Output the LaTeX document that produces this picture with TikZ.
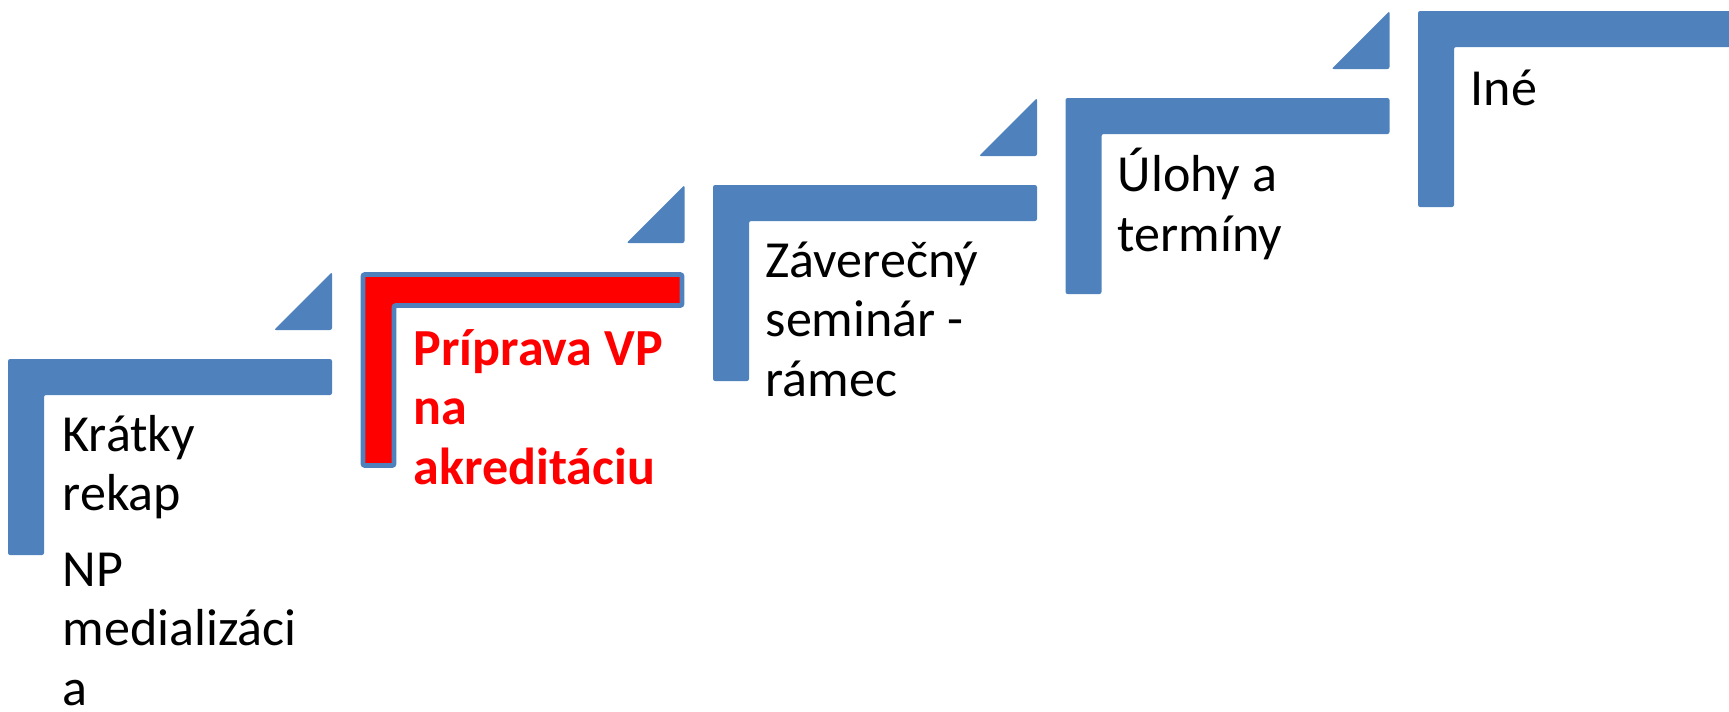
\documentclass[tikz,border=0pt]{standalone}
\usepackage{fontspec}
\setmainfont{Carlito}
\usetikzlibrary{positioning}
\definecolor{stepblue}{HTML}{4F81BD}
\definecolor{stepred}{HTML}{FF0000}
\newcommand{\stepsize}{\fontsize{14.8}{16.8}\selectfont}

\begin{document}
\begin{tikzpicture}
  [
    x=0.01cm, y=-0.01cm,
    stair/.style={fill=stepblue, rounded corners=0.6pt},
    steptext/.style={anchor=base west, inner sep=0pt, align=left, font=\stepsize}
  ]

  % Rahmen
  \useasboundingbox (0,0) rectangle (1729,711);

  % Stufen
  \coordinate (s1) at (8,359);
  \coordinate (s2) at (360.5,272);
  \coordinate (s3) at (713,185);
  \coordinate (s4) at (1065.5,98);
  \coordinate (s5) at (1418,11);

  \foreach \s in {s1,s3,s4,s5}
    \path[stair, shift={(\s)}] (0,0) -- (324,0) -- (324,36) -- (36,36) -- (36,196) -- (0,196) -- cycle;

  \path[stair, fill=stepred, draw=stepblue, line width=1.4pt, shift={(s2)}]
    (2.5,2.5) -- (321.5,2.5) -- (321.5,33.5) -- (33.5,33.5) -- (33.5,193.5) -- (2.5,193.5) -- cycle;

  % Dreiecke
  \foreach \s in {s1,s2,s3,s4}
    \path[stair, shift={(\s)}] (266,-29) -- (324,-87) -- (324,-29) -- cycle;

  % Texte (Anker = Grundlinie der letzten Zeile)
  \node[steptext] (rekap) at (62,705) {Krátky\\rekap\\[4.9pt]NP\\medializáci\\a};
  \node[steptext, font=\stepsize\bfseries, text=stepred] (priprava) at (413,484) {Príprava VP\\na\\akreditáciu};
  \node[steptext] (seminar) at (765,396) {Záverečný\\seminár -\\rámec};
  \node[steptext] (ulohy) at (1117,251) {Úlohy a\\termíny};
  \node[steptext] (ine) at (1470,105) {Iné};
\end{tikzpicture}
\end{document}
